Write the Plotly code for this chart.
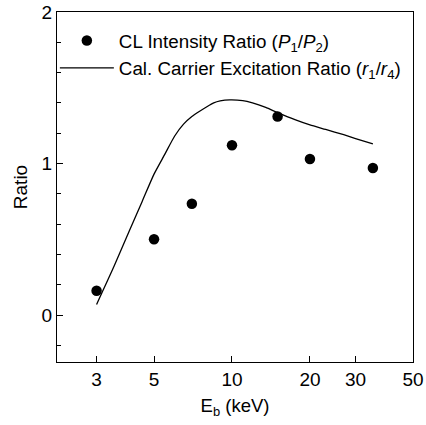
import plotly.graph_objects as go
import numpy as np

# Measured CL intensity ratio
cl_energy = [3, 5, 7, 10, 15, 20, 35]
cl_ratio = [0.16, 0.50, 0.735, 1.12, 1.31, 1.03, 0.97]

# Calculated carrier excitation ratio
calc_energy = [3, 3.5, 4, 4.5, 5, 5.5, 6, 6.5, 7, 7.5, 8, 8.5, 9, 9.8, 11, 12, 13.5, 15, 17.5, 20, 23, 27, 30, 35]
calc_ratio = [0.07, 0.32, 0.55, 0.75, 0.93, 1.06, 1.18, 1.26, 1.31, 1.345, 1.375, 1.40, 1.413, 1.42, 1.415, 1.40, 1.37, 1.336, 1.29, 1.255, 1.225, 1.19, 1.165, 1.13]

x_ticks = [3, 5, 10, 20, 30, 50]
x_ticklabels = ["3", "5", "10", "20", "30", "50"]
y_ticks = [0, 1, 2]

font_family = "Liberation Sans, Arial, sans-serif"

fig = go.Figure()
fig.add_trace(go.Scatter(
    x=cl_energy, y=cl_ratio, mode="markers",
    marker=dict(color="black", size=10.5, symbol="circle"),
    name="CL Intensity Ratio (<i>P</i><sub>1</sub>/<i>P</i><sub>2</sub>)",
    legendgroup="a",
))
fig.add_trace(go.Scatter(
    x=calc_energy, y=calc_ratio, mode="lines",
    line=dict(color="black", width=1.3, shape="spline", smoothing=0.6),
    name="Cal. Carrier Excitation Ratio (<i>r</i><sub>1</sub>/<i>r</i><sub>4</sub>)",
    legendgroup="b",
))

fig.update_layout(
    width=426, height=425,
    margin=dict(l=57, r=13, t=12, b=63, autoexpand=False),
    paper_bgcolor="white", plot_bgcolor="white",
    font=dict(family=font_family, size=18, color="black"),
    showlegend=True,
    legend=dict(x=-0.006, y=0.972, xanchor="left", yanchor="top",
                bgcolor="rgba(0,0,0,0)", font=dict(size=18.8),
                itemwidth=54, traceorder="grouped", tracegroupgap=0),
    xaxis=dict(
        type="log", range=[np.log10(2.11), np.log10(50)],
        tickvals=x_ticks, ticktext=x_ticklabels,
        ticks="inside", ticklen=6, tickwidth=1, tickcolor="black",
        showline=True, linecolor="black", linewidth=1.2, mirror=True,
        showgrid=False, zeroline=False,
        title=dict(text="E<sub>b</sub> (keV)", standoff=10, font=dict(size=18.5)),
        tickfont=dict(size=19),
    ),
    yaxis=dict(
        range=[-0.31, 2.0],
        tickvals=y_ticks,
        ticks="inside", ticklen=6, tickwidth=1, tickcolor="black",
        minor=dict(dtick=0.2, ticks="inside", ticklen=4, tickcolor="black", showgrid=False),
        showline=True, linecolor="black", linewidth=1.2, mirror=True,
        showgrid=False, zeroline=False,
        title=dict(text="Ratio", standoff=8, font=dict(size=19)),
        tickfont=dict(size=19),
    ),
)

fig.write_html("out.html")
